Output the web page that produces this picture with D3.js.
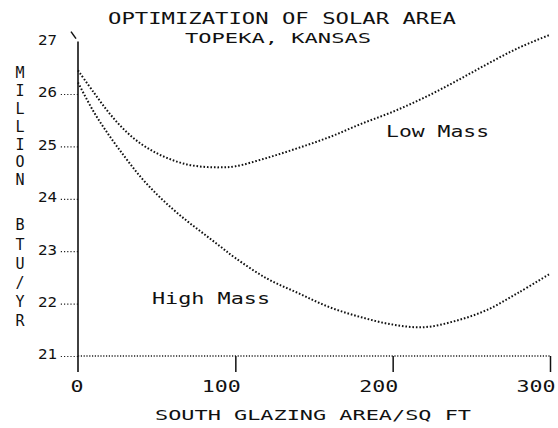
<!DOCTYPE html>
<html>
<head>
<meta charset="utf-8">
<script src="https://cdn.jsdelivr.net/npm/d3@7"></script>
<style>
  html, body { margin: 0; padding: 0; background: #fff; }
  svg { display: block; }
  text { font-family: "DejaVu Sans Mono", "Liberation Mono", monospace; fill: #111; }
</style>
</head>
<body>
<svg id="chart" width="558" height="428"></svg>
<script>
// ---- data ----
const glazingArea = [0, 10, 20, 30, 40, 50, 60, 70, 80, 90, 100, 120, 140, 160, 180, 200, 220, 240, 260, 280, 300];
const lowMass  = [26.45, 26.03, 25.63, 25.30, 25.05, 24.87, 24.74, 24.65, 24.61, 24.60, 24.62, 24.78, 24.97, 25.18, 25.43, 25.66, 25.93, 26.24, 26.57, 26.88, 27.13];
const highMass = [26.22, 25.66, 25.20, 24.79, 24.41, 24.09, 23.81, 23.56, 23.33, 23.10, 22.87, 22.48, 22.20, 21.93, 21.74, 21.60, 21.55, 21.67, 21.88, 22.21, 22.57];
const yTicks = [21, 22, 23, 24, 25, 26, 27];
const xTicks = [0, 100, 200, 300];
const xTickLabels = ["0", "100", "200", "300"];
const titleLines = ["OPTIMIZATION OF SOLAR AREA", "TOPEKA, KANSAS"];
const yTitleWords = ["MILLION", "BTU/YR"];
const xTitle = "SOUTH GLAZING AREA/SQ FT";
const seriesLabels = ["Low Mass", "High Mass"];

const svg = d3.select("#chart");
const x = d3.scaleLinear().domain([0, 300]).range([78, 550]);
const y = d3.scaleLinear().domain([21, 27]).range([356, 41.6]);

// ---- titles ----
svg.append("text").attr("x", 108).attr("y", 24)
  .attr("font-size", 15).attr("textLength", 348).attr("lengthAdjust", "spacingAndGlyphs")
  .text(titleLines[0]);
svg.append("text").attr("x", 185).attr("y", 43)
  .attr("font-size", 14).attr("textLength", 186).attr("lengthAdjust", "spacingAndGlyphs")
  .text(titleLines[1]);

// ---- y axis title (stacked letters) ----
const yTitleG = svg.append("g");
const wordStart = [73, 225], wordStep = [17.8, 19.2];
yTitleWords.forEach((w, wi) => {
  w.split("").forEach((ch, i) => {
    yTitleG.append("text")
      .attr("x", 20).attr("y", wordStart[wi] + i * wordStep[wi])
      .attr("dy", "0.36em").attr("text-anchor", "middle")
      .attr("font-size", 15).text(ch);
  });
});

// ---- y axis ----
const yAxis = d3.axisLeft(y).tickValues(yTicks).tickSize(18).tickPadding(3)
  .tickFormat(d3.format("d"));
const yg = svg.append("g").attr("transform", `translate(${x(0)},0)`).call(yAxis);
yg.select(".domain").remove();
yg.selectAll(".tick line").attr("stroke", "#222").attr("stroke-width", 1.2)
  .attr("stroke-dasharray", "1.2,2")
  .attr("opacity", d => d === 27 ? 0 : 1);
yg.selectAll(".tick text")
  .attr("font-family", "DejaVu Sans Mono, monospace")
  .attr("font-size", 14).attr("dy", "0.2em")
  .attr("textLength", 19).attr("lengthAdjust", "spacingAndGlyphs")
  .attr("fill", d => d === 27 ? "#aaa" : "#111");
// axis line
svg.append("line").attr("x1", x(0)).attr("x2", x(0))
  .attr("y1", y(27)).attr("y2", y(21) + 16)
  .attr("stroke", "#111").attr("stroke-width", 1.6);
svg.append("line").attr("x1", x(0) - 7).attr("x2", x(0) - 2)
  .attr("y1", y(27) - 10).attr("y2", y(27) - 3)
  .attr("stroke", "#111").attr("stroke-width", 1.5);

// ---- x axis ----
svg.append("line").attr("x1", x(0)).attr("x2", x(300))
  .attr("y1", y(21)).attr("y2", y(21))
  .attr("stroke", "#222").attr("stroke-width", 1.3).attr("stroke-dasharray", "1.2,1.6");
const xAxis = d3.axisBottom(x).tickValues(xTicks).tickSize(16).tickPadding(6)
  .tickFormat((d, i) => xTickLabels[i]);
const xg = svg.append("g").attr("transform", `translate(0,${y(21)})`).call(xAxis);
xg.select(".domain").remove();
xg.selectAll(".tick line").attr("stroke", "#111").attr("stroke-width", 1.5)
  .attr("opacity", d => d === 0 ? 0 : 1);
xg.selectAll(".tick text")
  .attr("font-family", "DejaVu Sans Mono, monospace")
  .attr("font-size", 16).attr("text-anchor", "end").attr("x", 5).attr("dy", "0.9em")
  .attr("textLength", (d, i) => xTickLabels[i].length * 13)
  .attr("lengthAdjust", "spacingAndGlyphs");

svg.append("text").attr("x", 155).attr("y", 420)
  .attr("font-size", 14).attr("fill", "#666")
  .attr("textLength", 316).attr("lengthAdjust", "spacingAndGlyphs")
  .text(xTitle);

// ---- curves ----
const line = d3.line().curve(d3.curveCatmullRom.alpha(0.5))
  .x((d, i) => x(glazingArea[i])).y(d => y(d));
[lowMass, highMass].forEach(s => {
  svg.append("path").datum(s).attr("d", line)
    .attr("fill", "none").attr("stroke", "#111")
    .attr("stroke-width", 2).attr("stroke-dasharray", "1.6,1.9");
});

// ---- series labels ----
svg.append("text").attr("x", 386).attr("y", 137)
  .attr("font-size", 16).attr("textLength", 103).attr("lengthAdjust", "spacingAndGlyphs")
  .text(seriesLabels[0]);
svg.append("text").attr("x", 152).attr("y", 304)
  .attr("font-size", 16).attr("textLength", 118).attr("lengthAdjust", "spacingAndGlyphs")
  .text(seriesLabels[1]);
</script>
</body>
</html>
